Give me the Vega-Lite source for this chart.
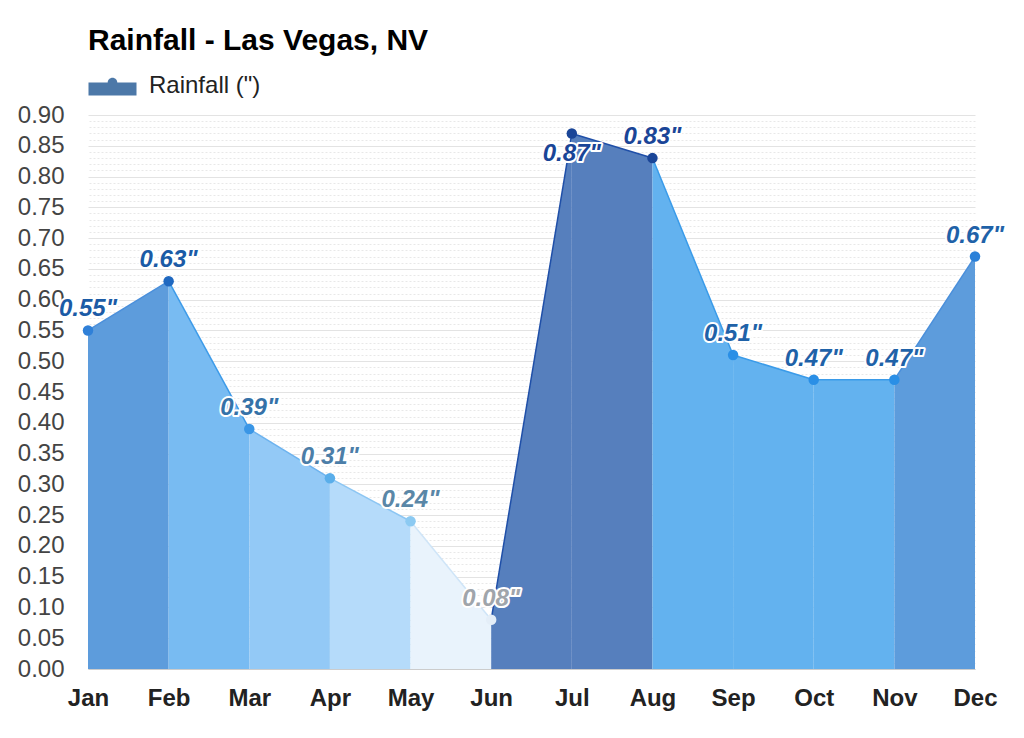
{
  "$schema": "https://vega.github.io/schema/vega-lite/v6.json",
  "width": 887,
  "height": 554,
  "autosize": {"type": "none"},
  "padding": {"left": 88, "top": 115, "right": 49, "bottom": 69},
  "background": "white",
  "title": {
    "text": "Rainfall - Las Vegas, NV",
    "anchor": "start",
    "frame": "group",
    "fontSize": 30,
    "font": "Liberation Sans",
    "fontWeight": "bold",
    "color": "#000000",
    "offset": 5
  },
  "datasets": {
    "months": [
      {"month": "Jan", "value": 0.55, "label": "0.55\""},
      {"month": "Feb", "value": 0.63, "label": "0.63\""},
      {"month": "Mar", "value": 0.39, "label": "0.39\""},
      {"month": "Apr", "value": 0.31, "label": "0.31\""},
      {"month": "May", "value": 0.24, "label": "0.24\""},
      {"month": "Jun", "value": 0.08, "label": "0.08\""},
      {"month": "Jul", "value": 0.87, "label": "0.87\""},
      {"month": "Aug", "value": 0.83, "label": "0.83\""},
      {"month": "Sep", "value": 0.51, "label": "0.51\""},
      {"month": "Oct", "value": 0.47, "label": "0.47\""},
      {"month": "Nov", "value": 0.47, "label": "0.47\""},
      {"month": "Dec", "value": 0.67, "label": "0.67\""}
    ],
    "segments": [
      {"seg": "Jan-Feb", "month": "Jan", "value": 0.55},
      {"seg": "Jan-Feb", "month": "Feb", "value": 0.63},
      {"seg": "Feb-Mar", "month": "Feb", "value": 0.63},
      {"seg": "Feb-Mar", "month": "Mar", "value": 0.39},
      {"seg": "Mar-Apr", "month": "Mar", "value": 0.39},
      {"seg": "Mar-Apr", "month": "Apr", "value": 0.31},
      {"seg": "Apr-May", "month": "Apr", "value": 0.31},
      {"seg": "Apr-May", "month": "May", "value": 0.24},
      {"seg": "May-Jun", "month": "May", "value": 0.24},
      {"seg": "May-Jun", "month": "Jun", "value": 0.08},
      {"seg": "Jun-Jul", "month": "Jun", "value": 0.08},
      {"seg": "Jun-Jul", "month": "Jul", "value": 0.87},
      {"seg": "Jul-Aug", "month": "Jul", "value": 0.87},
      {"seg": "Jul-Aug", "month": "Aug", "value": 0.83},
      {"seg": "Aug-Sep", "month": "Aug", "value": 0.83},
      {"seg": "Aug-Sep", "month": "Sep", "value": 0.51},
      {"seg": "Sep-Oct", "month": "Sep", "value": 0.51},
      {"seg": "Sep-Oct", "month": "Oct", "value": 0.47},
      {"seg": "Oct-Nov", "month": "Oct", "value": 0.47},
      {"seg": "Oct-Nov", "month": "Nov", "value": 0.47},
      {"seg": "Nov-Dec", "month": "Nov", "value": 0.47},
      {"seg": "Nov-Dec", "month": "Dec", "value": 0.67}
    ]
  },
  "config": {
    "font": "Liberation Sans",
    "view": {"stroke": null}
  },
  "resolve": {
    "scale": {"color": "independent", "fill": "independent", "stroke": "independent"},
    "axis": {"y": "independent"}
  },
  "layer": [
    {
      "data": {"name": "segments"},
      "mark": {"type": "area", "interpolate": "linear"},
      "encoding": {
        "x": {
          "field": "month",
          "type": "ordinal",
          "sort": ["Jan","Feb","Mar","Apr","May","Jun","Jul","Aug","Sep","Oct","Nov","Dec"],
          "scale": {"type": "point", "padding": 0, "domain": ["Jan","Feb","Mar","Apr","May","Jun","Jul","Aug","Sep","Oct","Nov","Dec"]},
          "axis": {
            "title": null,
            "labelAngle": 0,
            "labelFontSize": 24,
            "labelFontWeight": "bold",
            "labelColor": "#222222",
            "labelPadding": 17,
            "ticks": false,
            "domain": true,
            "domainColor": "#cccccc",
            "grid": false
          }
        },
        "y": {
          "field": "value",
          "type": "quantitative",
          "stack": null,
          "scale": {"domain": [0, 0.9], "nice": false, "zero": true},
          "axis": {
            "title": null,
            "orient": "left",
            "values": [0,0.05,0.1,0.15,0.2,0.25,0.3,0.35,0.4,0.45,0.5,0.55,0.6,0.65,0.7,0.75,0.8,0.85,0.9],
            "format": ".2f",
            "labelFontSize": 24,
            "labelColor": "#444444",
            "labelPadding": 24,
            "ticks": false,
            "domain": false,
            "grid": true,
            "gridColor": "#e3e3e3",
            "gridWidth": 1
          }
        },
        "fill": {
          "field": "seg",
          "type": "nominal",
          "legend": null,
          "scale": {
            "domain": ["Jan-Feb","Feb-Mar","Mar-Apr","Apr-May","May-Jun","Jun-Jul","Jul-Aug","Aug-Sep","Sep-Oct","Oct-Nov","Nov-Dec"],
            "range": ["#5d9cdc","#78bbf2","#93c9f6","#b5dbfa","#e9f3fc","#567fbd","#567fbd","#63b2ef","#63b2ef","#63b2ef","#5d9cdc"]
          }
        }
      }
    },
    {
      "data": {"name": "segments"},
      "mark": {"type": "line", "strokeWidth": 1.5, "interpolate": "linear"},
      "encoding": {
        "x": {"field": "month", "type": "ordinal", "sort": ["Jan","Feb","Mar","Apr","May","Jun","Jul","Aug","Sep","Oct","Nov","Dec"]},
        "y": {
          "field": "value",
          "type": "quantitative",
          "stack": null,
          "axis": {
            "orient": "right",
            "title": null,
            "labels": false,
            "ticks": false,
            "domain": false,
            "grid": true,
            "gridColor": "#e8e8e8",
            "gridDash": [2, 2],
            "values": [0.01,0.02,0.03,0.04,0.06,0.07,0.08,0.09,0.11,0.12,0.13,0.14,0.16,0.17,0.18,0.19,0.21,0.22,0.23,0.24,0.26,0.27,0.28,0.29,0.31,0.32,0.33,0.34,0.36,0.37,0.38,0.39,0.41,0.42,0.43,0.44,0.46,0.47,0.48,0.49,0.51,0.52,0.53,0.54,0.56,0.57,0.58,0.59,0.61,0.62,0.63,0.64,0.66,0.67,0.68,0.69,0.71,0.72,0.73,0.74,0.76,0.77,0.78,0.79,0.81,0.82,0.83,0.84,0.86,0.87,0.88,0.89]
          }
        },
        "stroke": {
          "field": "seg",
          "type": "nominal",
          "legend": null,
          "scale": {
            "domain": ["Jan-Feb","Feb-Mar","Mar-Apr","Apr-May","May-Jun","Jun-Jul","Jul-Aug","Aug-Sep","Sep-Oct","Oct-Nov","Nov-Dec"],
            "range": ["#4a8fdb","#3d9be9","#6db3ef","#8cc6f3","#cfe5f8","#1f4fa8","#1f4fa8","#3a9be9","#3a9be9","#3a9be9","#4a8fdb"]
          }
        }
      }
    },
    {
      "data": {"name": "months"},
      "mark": {"type": "point", "filled": true, "size": 110, "opacity": 1},
      "encoding": {
        "x": {"field": "month", "type": "ordinal", "sort": ["Jan","Feb","Mar","Apr","May","Jun","Jul","Aug","Sep","Oct","Nov","Dec"]},
        "y": {"field": "value", "type": "quantitative", "axis": null},
        "color": {
          "field": "month",
          "type": "nominal",
          "legend": null,
          "scale": {
            "domain": ["Jan","Feb","Mar","Apr","May","Jun","Jul","Aug","Sep","Oct","Nov","Dec"],
            "range": ["#2f80d8","#1f68c0","#3a96e6","#5aaeea","#8ccaf2","#e4eef8","#1a4597","#1a4597","#2a8fe6","#2a8fe6","#2a8fe6","#2a80d8"]
          }
        }
      }
    },
    {
      "data": {"name": "months"},
      "transform": [{"filter": "datum.month !== 'Jul'"}],
      "mark": {"type": "text", "fontSize": 24, "fontWeight": "bold", "fontStyle": "italic", "baseline": "alphabetic", "dy": -14, "stroke": "white", "strokeWidth": 4, "strokeJoin": "round", "fill": "white"},
      "encoding": {
        "x": {"field": "month", "type": "ordinal", "sort": ["Jan","Feb","Mar","Apr","May","Jun","Jul","Aug","Sep","Oct","Nov","Dec"]},
        "y": {"field": "value", "type": "quantitative", "axis": null},
        "text": {"field": "label", "type": "nominal"}
      }
    },
    {
      "data": {"name": "months"},
      "transform": [{"filter": "datum.month === 'Jul'"}],
      "mark": {"type": "text", "fontSize": 24, "fontWeight": "bold", "fontStyle": "italic", "baseline": "top", "dy": 9, "stroke": "white", "strokeWidth": 4, "strokeJoin": "round", "fill": "white"},
      "encoding": {
        "x": {"field": "month", "type": "ordinal", "sort": ["Jan","Feb","Mar","Apr","May","Jun","Jul","Aug","Sep","Oct","Nov","Dec"]},
        "y": {"field": "value", "type": "quantitative", "axis": null},
        "text": {"field": "label", "type": "nominal"}
      }
    },
    {
      "data": {"name": "months"},
      "transform": [{"filter": "datum.month !== 'Jul'"}],
      "mark": {"type": "text", "fontSize": 24, "fontWeight": "bold", "fontStyle": "italic", "baseline": "alphabetic", "dy": -14},
      "encoding": {
        "x": {"field": "month", "type": "ordinal", "sort": ["Jan","Feb","Mar","Apr","May","Jun","Jul","Aug","Sep","Oct","Nov","Dec"]},
        "y": {"field": "value", "type": "quantitative", "axis": null},
        "text": {"field": "label", "type": "nominal"},
        "color": {
          "field": "month",
          "type": "nominal",
          "legend": null,
          "scale": {
            "domain": ["Jan","Feb","Mar","Apr","May","Jun","Jul","Aug","Sep","Oct","Nov","Dec"],
            "range": ["#1b5ba6","#1b5ba6","#3572a8","#4c7ea8","#5a87a7","#a0a5ab","#1a4597","#1a4597","#1f62a8","#1f62a8","#1f62a8","#1f62a8"]
          }
        }
      }
    },
    {
      "data": {"name": "months"},
      "transform": [{"filter": "datum.month === 'Jul'"}],
      "mark": {"type": "text", "fontSize": 24, "fontWeight": "bold", "fontStyle": "italic", "baseline": "top", "dy": 9, "fill": "#1a4597"},
      "encoding": {
        "x": {"field": "month", "type": "ordinal", "sort": ["Jan","Feb","Mar","Apr","May","Jun","Jul","Aug","Sep","Oct","Nov","Dec"]},
        "y": {"field": "value", "type": "quantitative", "axis": null},
        "text": {"field": "label", "type": "nominal"}
      }
    },
    {
      "data": {"values": [{"series": "Rainfall (\")"}]},
      "mark": {"type": "point", "filled": true, "opacity": 0},
      "encoding": {
        "shape": {
          "field": "series",
          "type": "nominal",
          "scale": {"range": ["M-1,-0.125 H1 V0.42 H-1 Z M-0.2,-0.125 A0.2,0.2 0 1,1 0.2,-0.125 A0.2,0.2 0 1,1 -0.2,-0.125 Z"]},
          "legend": {
            "title": null,
            "orient": "none",
            "legendX": 0,
            "legendY": -54,
            "padding": 0,
            "labelFontSize": 24,
            "labelColor": "#222222",
            "labelOffset": 12,
            "symbolSize": 2304,
            "symbolOpacity": 1,
            "symbolFillColor": "#5580c0",
            "symbolStrokeColor": "#1f4fa8",
            "symbolStrokeWidth": 1,
            "encode": {
              "symbols": {
                "update": {
                  "opacity": {"value": 1},
                  "fill": {"value": "#5580c0"},
                  "stroke": {"value": "#1f4fa8"},
                  "strokeWidth": {"value": 1},
                  "size": {"value": 2304}
                }
              }
            }
          }
        }
      }
    }
  ]
}
